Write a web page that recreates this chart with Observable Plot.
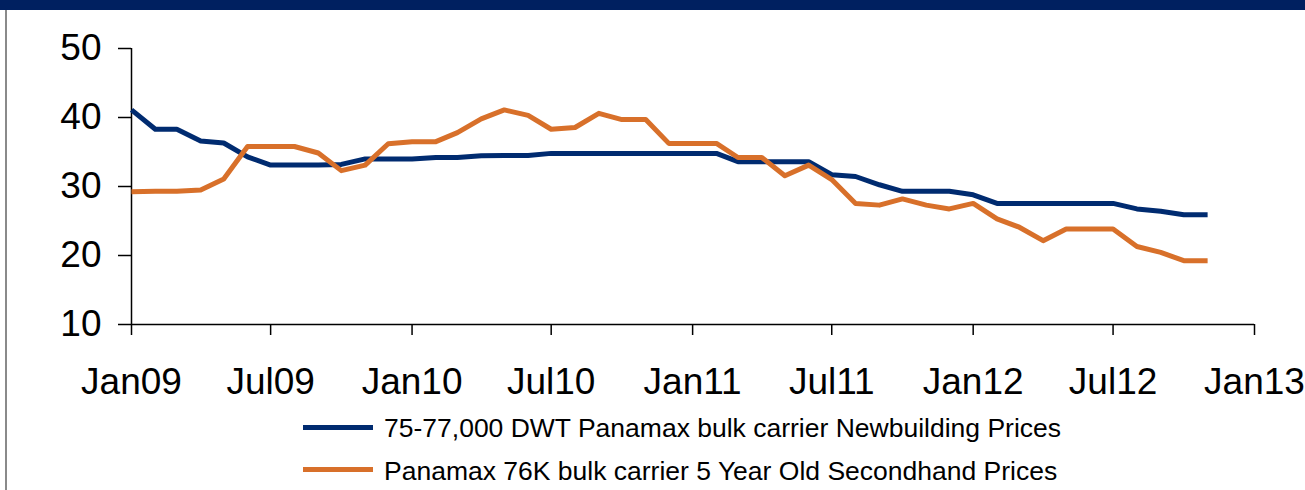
<!DOCTYPE html>
<html>
<head>
<meta charset="utf-8">
<script src="https://cdn.jsdelivr.net/npm/d3@7"></script>
<script src="https://cdn.jsdelivr.net/npm/@observablehq/plot@0.6"></script>
<style>
  html, body { margin: 0; padding: 0; background: #fff; overflow: hidden; }
  #wrap { position: relative; width: 1305px; height: 490px; font-family: "Liberation Sans", Arial, sans-serif; }
  #band { position: absolute; left: 0; top: 0; width: 1305px; height: 10px; background: #002060; }
  #lborder { position: absolute; left: 5px; top: 10px; width: 2px; height: 480px; background: #8a8a8a; }
  #chart { position: absolute; left: 0; top: 0; }
  .leg { position: absolute; left: 303px; height: 27px; }
  .leg .sw { position: absolute; left: 0; width: 70px; height: 5px; }
  .leg .lbl { position: absolute; left: 81px; top: 0; font-size: 26.5px; line-height: 27px; white-space: nowrap; color: #000; }
</style>
</head>
<body>
<div id="wrap">
  <div id="chart"></div>
  <div id="band"></div>
  <div id="lborder"></div>
  <div id="legend"></div>
</div>
<script>
// Series names
const seriesNames = [
  "75-77,000 DWT Panamax bulk carrier Newbuilding Prices",
  "Panamax 76K bulk carrier 5 Year Old Secondhand Prices"
];
const seriesColors = ["#002B70", "#D8702A"];

// Monthly categories: Jan 2009 .. Nov 2012
const months = d3.utcMonth.range(new Date(Date.UTC(2009, 0, 1)), new Date(Date.UTC(2012, 11, 1)));

// Newbuilding prices (US$ m)
const newbuilding = [
  41.1, 38.3, 38.3, 36.6, 36.3, 34.3, 33.1, 33.1, 33.1, 33.2, 34.0, 34.0,
  34.0, 34.2, 34.2, 34.45, 34.5, 34.5, 34.8, 34.8, 34.8, 34.8, 34.8, 34.8,
  34.8, 34.8, 33.6, 33.6, 33.6, 33.6, 31.7, 31.45, 30.25, 29.3, 29.3, 29.3,
  28.8, 27.55, 27.55, 27.55, 27.55, 27.55, 27.55, 26.75, 26.4, 25.9, 25.9
];
// 5 year old secondhand prices (US$ m)
const secondhand = [
  29.25, 29.3, 29.3, 29.5, 31.1, 35.8, 35.8, 35.8, 34.85, 32.3, 33.1, 36.2,
  36.5, 36.5, 37.8, 39.8, 41.1, 40.3, 38.3, 38.55, 40.6, 39.7, 39.7, 36.25,
  36.25, 36.25, 34.2, 34.2, 31.55, 33.1, 31.0, 27.55, 27.3, 28.2, 27.3, 26.75,
  27.55, 25.3, 24.1, 22.15, 23.85, 23.85, 23.85, 21.3, 20.45, 19.25, 19.25
];

// Axis ticks
const yTicks = [10, 20, 30, 40, 50];
const xTickLabels = ["Jan09", "Jul09", "Jan10", "Jul10", "Jan11", "Jul11", "Jan12", "Jul12", "Jan13"];
const xTickDates = [
  [2009, 0], [2009, 6], [2010, 0], [2010, 6], [2011, 0], [2011, 6], [2012, 0], [2012, 6], [2013, 0]
].map(([y, m]) => new Date(Date.UTC(y, m, 1)));

const data = [];
months.forEach((d, i) => {
  data.push({date: d, value: newbuilding[i], series: seriesNames[0]});
  data.push({date: d, value: secondhand[i], series: seriesNames[1]});
});

const fmt = new Map(xTickDates.map((d, i) => [+d, xTickLabels[i]]));

const chart = Plot.plot({
  width: 1305,
  height: 400,
  marginTop: 48,
  marginBottom: 76,
  marginLeft: 131,
  marginRight: 51,
  style: {fontFamily: "'Liberation Sans', Arial, sans-serif", color: "#000", background: "transparent", overflow: "visible"},
  x: {type: "utc", domain: [xTickDates[0], xTickDates[xTickDates.length - 1]]},
  y: {domain: [10, 50]},
  color: {domain: seriesNames, range: seriesColors},
  marks: [
    Plot.ruleX([xTickDates[0]], {y1: 10, y2: 50, stroke: "#000", strokeWidth: 1.5}),
    Plot.ruleY([10], {stroke: "#000", strokeWidth: 1.5}),
    Plot.axisY({ticks: yTicks, tickSize: 13, tickPadding: 17, fontSize: 37, strokeWidth: 1.5, label: null, tickFormat: d => String(d)}),
    Plot.axisX({ticks: xTickDates, tickSize: 11, tickPadding: 32, fontSize: 37, strokeWidth: 1.5, label: null, tickFormat: d => fmt.get(+d)}),
    Plot.line(data, {x: "date", y: "value", z: "series", stroke: "series", strokeWidth: 5, strokeLinejoin: "round", strokeLinecap: "butt"})
  ]
});
document.getElementById("chart").appendChild(chart);

// Legend below the plot
const legend = document.getElementById("legend");
const rows = [{top: 415}, {top: 458}];
seriesNames.forEach((name, i) => {
  const row = document.createElement("div");
  row.className = "leg";
  row.style.top = rows[i].top + "px";
  const sw = document.createElement("div");
  sw.className = "sw";
  sw.style.background = seriesColors[i];
  sw.style.top = (i === 0 ? 10 : 9) + "px";
  const lbl = document.createElement("div");
  lbl.className = "lbl";
  lbl.textContent = name;
  row.appendChild(sw);
  row.appendChild(lbl);
  legend.appendChild(row);
});
</script>
</body>
</html>
